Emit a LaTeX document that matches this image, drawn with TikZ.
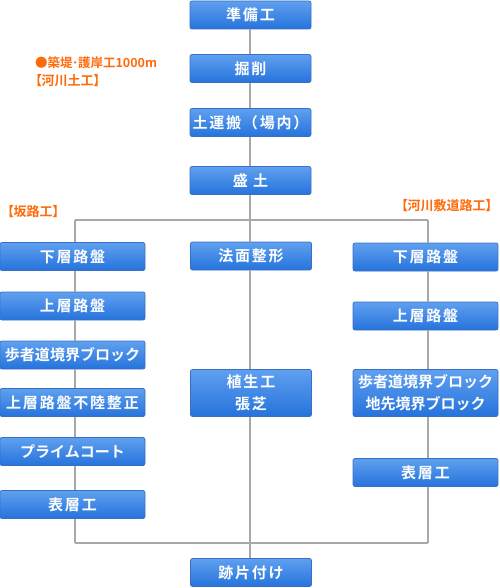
\documentclass[tikz,border=0pt]{standalone}
\usepackage{fontspec}
\newfontfamily\jpb{Noto Sans CJK JP}[UprightFont={* Bold}]
\newfontfamily\jpbs{Noto Sans CJK JP}[UprightFont={* Bold},LetterSpace=12]
\newfontfamily\jpo{Noto Sans CJK JP}[UprightFont={* Bold},RawFeature=+palt]
\definecolor{boxtop}{HTML}{5FA0EF}
\definecolor{boxbot}{HTML}{2673DC}
\definecolor{boxline}{HTML}{3A70C2}
\definecolor{conn}{HTML}{A8A8A8}
\definecolor{orangetxt}{HTML}{FF6A0A}
\tikzset{
  flowbox/.style={draw=boxline, line width=0.7pt, rounded corners=2pt,
    top color=boxtop, bottom color=boxbot, text=white,
    minimum height=28pt, inner sep=0pt, align=center, font=\jpbs\fontsize{15}{22}\selectfont},
  widebox/.style={flowbox, minimum width=121pt},
  sidebox/.style={flowbox, minimum width=145pt},
  tight/.style={font=\jpb\fontsize{15}{22}\selectfont},
  tallbox/.style={minimum height=47pt},
  conline/.style={draw=conn, line width=2pt},
  olabel/.style={text=orangetxt, font=\jpo\fontsize{13}{16}\selectfont, inner sep=0pt, anchor=west}
}
\begin{document}
\begin{tikzpicture}[x=1pt,y=-1pt]
\useasboundingbox (0,0) rectangle (499,588);
% main column
\node[widebox] (s1) at (250.5,15) {準備工};
\node[widebox] (s2) at (250.5,68.5) {掘削};
\node[widebox] (s3) at (250.5,122.5) {土運搬（場内）};
\node[widebox] (s4) at (250.5,180.5) {盛 土};
% left column
\node[sidebox] (l1) at (72.5,256.5) {下層路盤};
\node[sidebox] (l2) at (72.5,306) {上層路盤};
\node[sidebox,tight] (l3) at (72.5,355) {歩者道境界ブロック};
\node[sidebox] (l4) at (72.5,402.5) {上層路盤不陸整正};
\node[sidebox,tight] (l5) at (72.5,451.5) {プライムコート};
\node[sidebox] (l6) at (72.5,504.5) {表層工};
% centre column
\node[widebox] (c1) at (251,256) {法面整形};
\node[widebox,tallbox] (c2) at (251,393) {植生工\\張芝};
% right column
\node[sidebox] (r1) at (425.5,257) {下層路盤};
\node[sidebox] (r2) at (425.5,316) {上層路盤};
\node[sidebox,tight,tallbox] (r3) at (425.5,393) {歩者道境界ブロック\\地先境界ブロック};
\node[sidebox] (r4) at (425.5,472.5) {表層工};
% end
\node[widebox] (e) at (251,572.5) {跡片付け};
% labels
\node[olabel, font=\jpo\fontsize{12.5}{15}\selectfont] (lab1) at (35,63) {●築堤\kern-1pt·\kern-1pt護岸工1000m};
\node[olabel] (lab2) at (35,81) {【河川土工】};
\node[olabel] (lab3) at (7,212) {【坂路工】};
\node[olabel] (lab4) at (401,206) {【河川敷道路工】};
% junctions
\coordinate (jt) at (250,220);
\coordinate (jl) at (75,220);
\coordinate (jr) at (428,220);
\coordinate (bl) at (75,543);
\coordinate (br) at (428,543);
% connectors
\path[conline] (s1.south -| jt) -- (s2.north -| jt);
\path[conline] (s2.south -| jt) -- (s3.north -| jt);
\path[conline] (s3.south -| jt) -- (s4.north -| jt);
\path[conline] (s4.south -| jt) -- (jt);
\path[conline] (jl) -- (jr);
\path[conline] (jl) -- (l1.north -| jl);
\path[conline] (jt) -- (c1.north -| jt);
\path[conline] (jr) -- (r1.north -| jr);
\path[conline] (l1.south -| jl) -- (l2.north -| jl);
\path[conline] (l2.south -| jl) -- (l3.north -| jl);
\path[conline] (l3.south -| jl) -- (l4.north -| jl);
\path[conline] (l4.south -| jl) -- (l5.north -| jl);
\path[conline] (l5.south -| jl) -- (l6.north -| jl);
\path[conline] (l6.south -| jl) -- (bl);
\path[conline] (bl) -- (br);
\path[conline] (c1.south -| jt) -- (c2.north -| jt);
\path[conline] (c2.south -| jt) -- (e.north -| jt);
\path[conline] (r1.south -| jr) -- (r2.north -| jr);
\path[conline] (r2.south -| jr) -- (r3.north -| jr);
\path[conline] (r3.south -| jr) -- (r4.north -| jr);
\path[conline] (r4.south -| jr) -- (br);
\end{tikzpicture}
\end{document}
